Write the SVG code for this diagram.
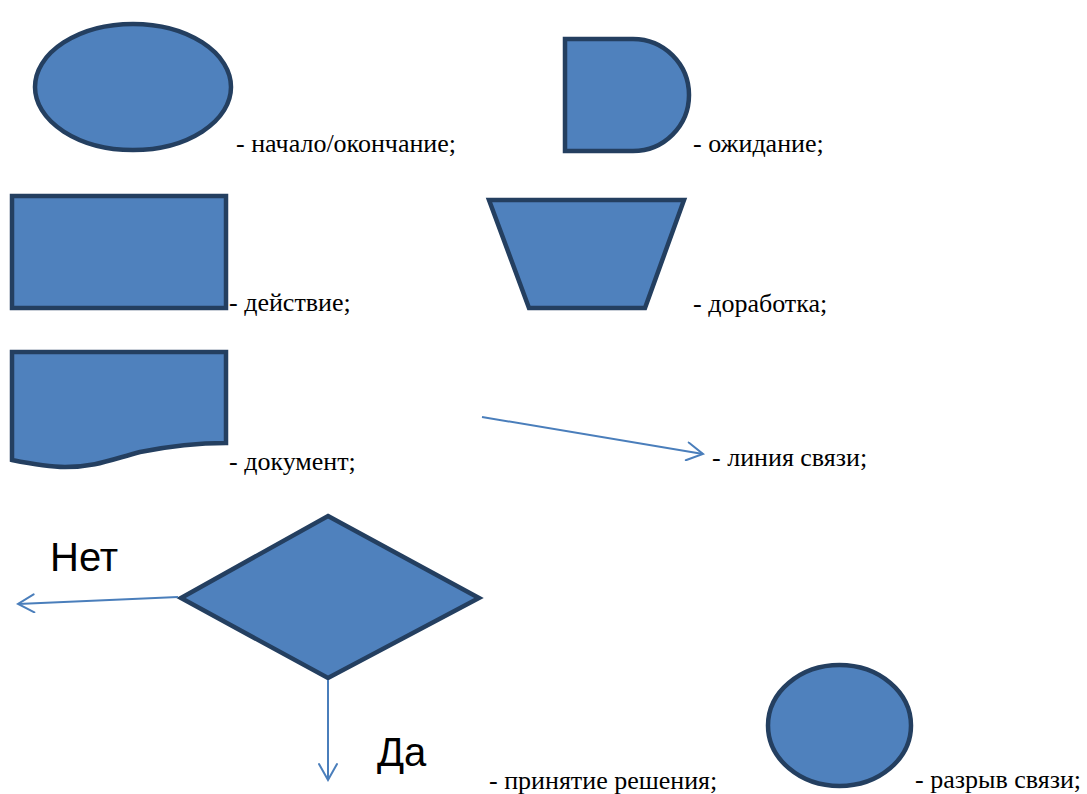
<svg xmlns="http://www.w3.org/2000/svg" width="1087" height="794" viewBox="0 0 1087 794">
<defs>
<marker id="open-arrow" viewBox="0 0 20 20" refX="18" refY="10" markerWidth="20" markerHeight="20" markerUnits="userSpaceOnUse" orient="auto">
<polyline points="2,1 18,10 2,19" fill="none" stroke="#4A7EBB" stroke-width="2" stroke-linecap="round"/>
</marker>
</defs>
<rect width="1087" height="794" fill="#fff"/>
<g id="terminator">
<ellipse cx="133" cy="87" rx="98" ry="63" fill="#4F81BD" stroke="#243F60" stroke-width="4.5"/>
<text x="236" y="152" font-family="Liberation Serif" font-size="26" fill="#000">- начало/окончание;</text>
</g>
<g id="delay">
<path d="M565,39 H633 A56,56 0 0 1 633,151 H565 Z" fill="#4F81BD" stroke="#243F60" stroke-width="4.5"/>
<text x="693" y="152" font-family="Liberation Serif" font-size="26" fill="#000">- ожидание;</text>
</g>
<g id="process">
<rect x="12" y="196" width="214" height="112" fill="#4F81BD" stroke="#243F60" stroke-width="4.5"/>
<text x="229" y="311" font-family="Liberation Serif" font-size="26" fill="#000">- действие;</text>
</g>
<g id="rework">
<path d="M489,200 H684 L645,308 H529 Z" fill="#4F81BD" stroke="#243F60" stroke-width="4.5"/>
<text x="693" y="312" font-family="Liberation Serif" font-size="26" fill="#000">- доработка;</text>
</g>
<g id="document">
<path d="M12,352 H226 V443 C200,443 170,446 140,452 C110,460 95,467 65,467 C48,467 32,464 12,460 Z" fill="#4F81BD" stroke="#243F60" stroke-width="4.5"/>
<text x="229" y="470" font-family="Liberation Serif" font-size="26" fill="#000">- документ;</text>
</g>
<g id="link-line">
<text x="712" y="466" font-family="Liberation Serif" font-size="26" fill="#000">- линия связи;</text>
</g>
<g id="decision">
<path d="M328,516 L479,598 L328,678 L181,598 Z" fill="#4F81BD" stroke="#243F60" stroke-width="4.5"/>
<text x="50" y="571" font-family="Liberation Sans" font-size="40" fill="#000">Нет</text>
<text x="377" y="766" font-family="Liberation Sans" font-size="40" fill="#000">Да</text>
<text x="489" y="789" font-family="Liberation Serif" font-size="26" fill="#000">- принятие решения;</text>
</g>
<g id="connector-break">
<ellipse cx="839.5" cy="725.5" rx="71.5" ry="60.5" fill="#4F81BD" stroke="#243F60" stroke-width="4.5"/>
<text x="915" y="788" font-family="Liberation Serif" font-size="26" fill="#000">- разрыв связи;</text>
</g>
<g id="connectors" fill="none" stroke="#4A7EBB" stroke-width="2">
<line x1="482" y1="417" x2="703" y2="454" marker-end="url(#open-arrow)"/>
<line x1="178" y1="597" x2="18" y2="604" marker-end="url(#open-arrow)"/>
<line x1="328" y1="680" x2="328" y2="780" marker-end="url(#open-arrow)"/>
</g>
</svg>
